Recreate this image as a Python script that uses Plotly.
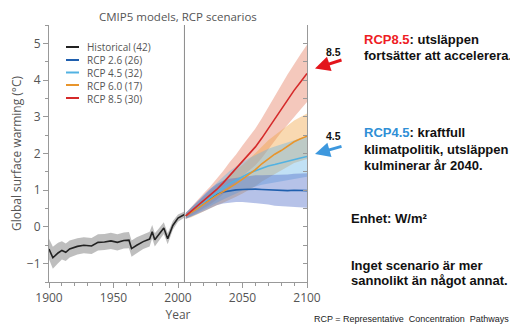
import plotly.graph_objects as go

# ---------------- data ----------------
hist_years = [1900, 1903, 1907, 1910, 1913, 1916, 1922, 1927, 1933, 1938, 1943, 1948, 1953, 1958,
              1962, 1964, 1968, 1973, 1978, 1980, 1982, 1985, 1989, 1992, 1996, 2000, 2003, 2005]
hist_mean = [-0.60, -0.84, -0.71, -0.64, -0.69, -0.60, -0.53, -0.50, -0.52, -0.42, -0.41, -0.38, -0.42, -0.37,
             -0.36, -0.59, -0.50, -0.40, -0.33, -0.13, -0.35, -0.21, -0.03, -0.32, 0.04, 0.24, 0.30, 0.34]
hist_spread = [0.28, 0.30, 0.28, 0.25, 0.24, 0.23, 0.22, 0.22, 0.22, 0.22, 0.22, 0.22, 0.22, 0.22,
               0.22, 0.22, 0.22, 0.2, 0.2, 0.18, 0.18, 0.16, 0.16, 0.15, 0.12, 0.1, 0.08, 0.08]

scen_years = [2006, 2010, 2015, 2020, 2025, 2030, 2035, 2040, 2045, 2050,
              2055, 2060, 2065, 2070, 2075, 2080, 2085, 2090, 2095, 2100]
rcp26 = [0.30, 0.40, 0.52, 0.65, 0.78, 0.88, 0.95, 0.99, 1.01, 1.02,
         1.03, 1.03, 1.02, 1.01, 1.00, 0.98, 0.99, 1.00, 0.99, 0.99]
rcp26_spread = [0.08, 0.12, 0.17, 0.22, 0.26, 0.29, 0.31, 0.32, 0.33, 0.34,
                0.36, 0.38, 0.39, 0.40, 0.42, 0.43, 0.44, 0.45, 0.46, 0.47]
rcp45 = [0.30, 0.40, 0.52, 0.66, 0.80, 0.94, 1.06, 1.18, 1.28, 1.38,
         1.46, 1.53, 1.60, 1.66, 1.70, 1.75, 1.79, 1.84, 1.88, 1.92]
rcp45_spread = [0.08, 0.12, 0.16, 0.2, 0.24, 0.28, 0.31, 0.34, 0.37, 0.39,
                0.41, 0.43, 0.45, 0.47, 0.49, 0.5, 0.52, 0.53, 0.54, 0.55]
rcp60 = [0.30, 0.38, 0.50, 0.62, 0.75, 0.86, 0.96, 1.06, 1.18, 1.30,
         1.42, 1.56, 1.72, 1.86, 1.98, 2.08, 2.20, 2.32, 2.40, 2.47]
rcp60_spread = [0.08, 0.12, 0.16, 0.2, 0.24, 0.27, 0.3, 0.33, 0.36, 0.39,
                0.42, 0.45, 0.48, 0.5, 0.52, 0.54, 0.56, 0.58, 0.6, 0.62]
rcp85 = [0.30, 0.42, 0.56, 0.72, 0.86, 1.02, 1.20, 1.40, 1.58, 1.80,
         2.00, 2.18, 2.42, 2.68, 2.95, 3.22, 3.48, 3.72, 3.95, 4.18]
rcp85_spread = [0.08, 0.12, 0.16, 0.2, 0.24, 0.28, 0.32, 0.36, 0.39, 0.42,
                0.46, 0.5, 0.54, 0.57, 0.6, 0.64, 0.68, 0.72, 0.75, 0.78]

hist_end_year = 2005
x_ticks = [1900, 1950, 2000, 2050, 2100]
y_ticks = [-1, 0, 1, 2, 3, 4, 5]

legend_labels = ["Historical (42)", "RCP 2.6 (26)", "RCP 4.5 (32)", "RCP 6.0 (17)", "RCP 8.5 (30)"]
line_colors = ["#222222", "#1f5fae", "#52b2e2", "#e8952c", "#d52a2a"]
band_colors = ["rgba(110,110,110,0.45)", "rgba(80,110,200,0.42)", "rgba(100,180,230,0.40)",
               "rgba(240,160,60,0.40)", "rgba(225,110,80,0.38)"]

# ---------------- geometry helpers (page pixels -> paper) ----------------
# the page body has an 8px default margin, so the figure starts at (8, 8)
OFF = 8
L, R, T, B = 49, 307, 25, 282   # plot area in page pixels
W, H = 518, 324                 # window size


def fx(px):
    return (px - L) / (R - L)


def fy(py):
    return (B - py) / (B - T)


fig = go.Figure()

series = [
    (hist_years, hist_mean, hist_spread),
    (scen_years, rcp26, rcp26_spread),
    (scen_years, rcp45, rcp45_spread),
    (scen_years, rcp60, rcp60_spread),
    (scen_years, rcp85, rcp85_spread),
]

band_order = [4, 3, 2, 1, 0]
for i in band_order:
    xs, m, s = series[i]
    upper = [a + b for a, b in zip(m, s)]
    lower = [a - b for a, b in zip(m, s)]
    fig.add_trace(go.Scatter(
        x=list(xs) + list(xs)[::-1], y=upper + lower[::-1],
        fill="toself", fillcolor=band_colors[i], line=dict(width=0),
        mode="lines", hoverinfo="skip", showlegend=False))

for i in [0, 1, 2, 3, 4]:
    xs, m, s = series[i]
    fig.add_trace(go.Scatter(x=xs, y=m, mode="lines", name=legend_labels[i],
                             line=dict(color=line_colors[i], width=1.6), showlegend=False))

# invisible trace for the right-hand axis
fig.add_trace(go.Scatter(x=[hist_end_year], y=[0], yaxis="y2", mode="markers",
                         marker=dict(opacity=0), showlegend=False, hoverinfo="skip"))

fig.add_vline(x=hist_end_year, line=dict(color="#8a8a8a", width=1))

axis_font = dict(family="Open Sans", size=12, color="#555555")

fig.update_layout(
    width=W - OFF, height=H - OFF,
    margin=dict(l=L - OFF, r=W - R, t=T - OFF, b=H - B, pad=0),
    paper_bgcolor="white", plot_bgcolor="white",
    xaxis=dict(range=[1900, 2100], tickvals=x_ticks, ticks="outside", ticklen=5,
               tickcolor="#999", showline=True, linecolor="#999", linewidth=1,
               showgrid=False, zeroline=False, tickfont=axis_font, automargin=False,
               minor=dict(dtick=10, ticks="outside", ticklen=3, tickcolor="#999"),
               title=dict(text="Year", font=axis_font, standoff=0)),
    yaxis=dict(range=[-1.5, 5.5], tickvals=y_ticks, ticks="outside", ticklen=5,
               tickcolor="#999", showline=True, linecolor="#999", linewidth=1,
               showgrid=False, zeroline=False, tickfont=axis_font, automargin=False,
               minor=dict(dtick=0.5, ticks="outside", ticklen=3, tickcolor="#999"),
               title=dict(text="Global surface warming (°C)", font=axis_font, standoff=6)),
    yaxis2=dict(range=[-1.5, 5.5], overlaying="y", side="right", dtick=0.5,
                ticks="inside", ticklen=4, tickcolor="#999", showline=True, automargin=False,
                linecolor="#999", showticklabels=False, showgrid=False, zeroline=False),
)

# title
fig.add_annotation(text="CMIP5 models, RCP scenarios", xref="paper", yref="paper",
                   x=0.5, y=fy(16.5), showarrow=False, xanchor="center", yanchor="middle",
                   font=dict(family="Open Sans", size=11.5, color="#555555"))

# legend (custom, compact)
legend_rows = [47, 60, 72.5, 85, 98]
for col, ry in zip(line_colors, legend_rows):
    fig.add_shape(type="line", xref="paper", yref="paper",
                  x0=fx(66), x1=fx(79), y0=fy(ry), y1=fy(ry),
                  line=dict(color=col, width=2))
fig.add_annotation(text="<br>".join(legend_labels), xref="paper", yref="paper",
                   x=fx(85), y=fy(72.5), showarrow=False, xanchor="left", yanchor="middle",
                   align="left", font=dict(family="Open Sans", size=10, color="#555555"))

# right-side texts
bold = dict(family="Liberation Sans, Arial", size=13, color="#111111")
right_lines = [
    ("<b><span style='color:#ee1c24'>RCP8.5</span>: utsläppen</b>", 362, 39.5),
    ("<b>fortsätter att accelerera.</b>", 362, 55),
    ("<b><span style='color:#2f8fd6'>RCP4.5</span>: kraftfull</b>", 362, 132.5),
    ("<b>klimatpolitik, utsläppen</b>", 362, 149),
    ("<b>kulminerar år 2040.</b>", 362, 165),
    ("<b>Enhet: W/m²</b>", 349, 218),
    ("<b>Inget scenario är mer</b>", 349, 265),
    ("<b>sannolikt än något annat.</b>", 349, 280),
]
for txt, px, py in right_lines:
    fig.add_annotation(text=txt, xref="paper", yref="paper", x=fx(px), y=fy(py),
                       showarrow=False, xanchor="left", yanchor="middle", font=bold)

small_bold = dict(family="Liberation Sans, Arial", size=10.5, color="#111111")
fig.add_annotation(text="<b>8.5</b>", xref="paper", yref="paper", x=fx(333), y=fy(52),
                   showarrow=False, xanchor="center", yanchor="middle", font=small_bold)
fig.add_annotation(text="<b>4.5</b>", xref="paper", yref="paper", x=fx(333), y=fy(135.5),
                   showarrow=False, xanchor="center", yanchor="middle", font=small_bold)

# arrows
fig.add_annotation(text="", xref="paper", yref="paper", x=fx(315), y=fy(68.5),
                   ax=28, ay=-9, showarrow=True, arrowhead=2, arrowsize=1,
                   arrowwidth=3, arrowcolor="#e3141b")
fig.add_annotation(text="", xref="paper", yref="paper", x=fx(315), y=fy(154),
                   ax=28, ay=-8, showarrow=True, arrowhead=2, arrowsize=1,
                   arrowwidth=3, arrowcolor="#3d98de")

fig.add_annotation(text="RCP = Representative  Concentration  Pathways", xref="paper", yref="paper",
                   x=fx(312), y=fy(318.5), showarrow=False, xanchor="left", yanchor="middle",
                   font=dict(family="Liberation Sans, Arial", size=9, color="#222222"))

fig.write_html("out.html")
